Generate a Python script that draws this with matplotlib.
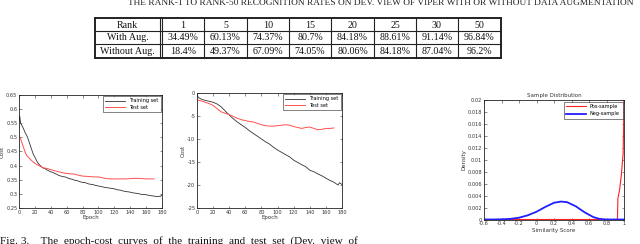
import matplotlib
matplotlib.use('Agg')
import matplotlib.pyplot as plt
from matplotlib.ticker import FuncFormatter

# ---------------- data ----------------
ranks = [1, 5, 10, 15, 20, 25, 30, 50]
with_aug = [34.49, 60.13, 74.37, 80.7, 84.18, 88.61, 91.14, 96.84]
without_aug = [18.4, 49.37, 67.09, 74.05, 80.06, 84.18, 87.04, 96.2]

ep_train1 = [0, 1, 2, 5, 8, 10, 12, 15, 18, 20, 23, 25, 28, 30, 33, 35, 38, 40, 43, 45, 48, 50, 53, 55,
             58, 60, 63, 65, 68, 70, 73, 75, 78, 80, 83, 85, 88, 90, 93, 95, 98, 100, 103, 105, 108,
             110, 113, 115, 118, 120, 123, 125, 128, 130, 133, 135, 138, 140, 143, 145, 148, 150, 153,
             155, 158, 160, 163, 165, 168, 170, 173, 175, 177, 178, 180]
cost_train1 = [0.555, 0.575, 0.55, 0.535, 0.515, 0.505, 0.49, 0.465, 0.44, 0.43, 0.413, 0.405, 0.397,
               0.392, 0.389, 0.385, 0.381, 0.378, 0.376, 0.372, 0.369, 0.365, 0.363, 0.361, 0.36, 0.358,
               0.354, 0.353, 0.351, 0.348, 0.347, 0.345, 0.342, 0.341, 0.340, 0.338, 0.335, 0.334, 0.333,
               0.331, 0.329, 0.328, 0.326, 0.325, 0.323, 0.322, 0.321, 0.320, 0.319, 0.318, 0.315, 0.314,
               0.313, 0.311, 0.309, 0.308, 0.307, 0.306, 0.304, 0.303, 0.302, 0.301, 0.299, 0.298, 0.298,
               0.297, 0.295, 0.294, 0.293, 0.292, 0.291, 0.290, 0.292, 0.291, 0.297]
ep_test1 = [0, 2, 5, 8, 10, 15, 20, 25, 30, 35, 40, 45, 50, 55, 60, 65, 70, 75, 80, 85, 90, 95, 100,
            105, 110, 115, 120, 125, 130, 135, 140, 145, 150, 155, 160, 165, 170]
cost_test1 = [0.505, 0.495, 0.47, 0.445, 0.435, 0.42, 0.408, 0.40, 0.393, 0.39, 0.386, 0.382, 0.378,
              0.375, 0.372, 0.371, 0.37, 0.366, 0.363, 0.362, 0.361, 0.36, 0.36, 0.357, 0.354, 0.353,
              0.353, 0.353, 0.353, 0.353, 0.354, 0.355, 0.355, 0.354, 0.353, 0.353, 0.353]

ep_train2 = [0, 2, 5, 10, 15, 20, 25, 30, 35, 40, 45, 50, 55, 60, 65, 70, 75, 80, 85, 90, 95, 100, 105,
             110, 115, 120, 125, 130, 135, 140, 145, 150, 155, 160, 165, 170, 175, 177, 180]
cost_train2 = [-0.5, -1.0, -1.3, -1.6, -1.8, -2.0, -2.4, -3.0, -3.9, -4.8, -5.6, -6.3, -6.9, -7.5,
               -8.2, -8.8, -9.4, -10.0, -10.6, -11.1, -11.8, -12.4, -12.9, -13.4, -13.9, -14.6, -15.1,
               -15.6, -16.0, -16.8, -17.1, -17.6, -18.0, -18.5, -19.0, -19.4, -20.0, -19.5, -19.9]
ep_test2 = [0, 5, 10, 15, 20, 25, 30, 35, 40, 45, 50, 55, 60, 65, 70, 75, 80, 85, 90, 95, 100, 105,
            110, 115, 120, 125, 130, 135, 140, 145, 150, 155, 160, 165, 170]
cost_test2 = [-1.5, -1.7, -2.0, -2.3, -2.7, -3.4, -4.1, -4.4, -4.7, -5.1, -5.5, -5.8, -6.0, -6.2, -6.3,
              -6.6, -6.9, -7.1, -7.2, -7.2, -7.1, -7.0, -6.9, -7.0, -7.3, -7.5, -7.7, -7.5, -7.4, -7.7,
              -8.0, -7.9, -7.7, -7.7, -7.6]

neg_x = [-0.6, -0.5, -0.4, -0.3, -0.2, -0.1, 0.0, 0.1, 0.2, 0.28, 0.35, 0.45, 0.55, 0.65, 0.72, 0.8, 0.9, 1.0]
neg_y = [0, 0, 0.00003, 0.0001, 0.0003, 0.0007, 0.0013, 0.0021, 0.0028, 0.0030, 0.0029, 0.0022,
         0.0012, 0.0004, 0.0001, 0, 0, 0]
pos_x = [-0.6, 0.925, 0.93, 0.95, 0.97, 0.99, 0.995, 1.0]
pos_y = [0, 0, 0.0035, 0.005, 0.0075, 0.011, 0.015, 0.021]

# ---------------- figure ----------------
W, H = 640, 244
fig = plt.figure(figsize=(W / 100, H / 100), dpi=100)
plt.rcParams['font.family'] = ['Liberation Serif', 'DejaVu Serif']

bg = fig.add_axes([0, 0, 1, 1])
bg.set_xlim(0, W)
bg.set_ylim(H, 0)
bg.axis('off')

# title (cut at top, as in the reference)
bg.text(128, 5.0, "THE RANK-1 TO RANK-50 RECOGNITION RATES ON DEV. VIEW OF VIPER WITH OR WITHOUT DATA AUGMENTATION",
        fontsize=6.75, ha='left', va='baseline', color='#222222')

# table
col_edges = [95, 160, 204, 247, 289, 331, 374, 416, 458, 501]
row_edges = [18, 31, 44, 58]
rows = [["Rank"] + [str(r) for r in ranks],
        ["With Aug."] + [f"{v}%" for v in with_aug],
        ["Without Aug."] + [f"{v}%" for v in without_aug]]
for ri, row in enumerate(rows):
    yc = (row_edges[ri] + row_edges[ri + 1]) / 2
    for ci, txt in enumerate(row):
        x0 = col_edges[ci] + (2 if ci == 1 else 0)
        xc = (x0 + col_edges[ci + 1]) / 2
        bg.text(xc, yc + 0.5, txt, fontsize=7.2, ha='center', va='center', color='#111111')
lw_in = 0.8
for y in row_edges:
    lw = 1.4 if y in (row_edges[0], row_edges[-1]) else lw_in
    bg.plot([col_edges[0], col_edges[-1]], [y, y], color='#222222', lw=lw)
for i, x in enumerate(col_edges):
    lw = 1.4 if i in (0, len(col_edges) - 1) else lw_in
    bg.plot([x, x], [row_edges[0], row_edges[-1]], color='#222222', lw=lw)
bg.plot([162.3, 162.3], [row_edges[0], row_edges[-1]], color='#222222', lw=lw_in)

# caption (cut at bottom, as in the reference)
bg.text(0, 236.5, "Fig. 3.    The  epoch-cost  curves  of  the  training  and  test  set  (Dev.  view  of",
        fontsize=8.1, ha='left', va='top', color='#111111')


def ax_px(l, t, r, b):
    return fig.add_axes([l / W, 1 - b / H, (r - l) / W, (b - t) / H])


fmt = FuncFormatter(lambda v, p: ('%g' % round(v, 6)))
tick_col = '#333333'


def style(ax):
    ax.tick_params(direction='in', top=True, right=True, length=1.8, width=0.4,
                   labelsize=3.6, pad=1.2, colors='#333333', labelcolor=tick_col)
    for s in ax.spines.values():
        s.set_linewidth(0.6)
        s.set_color('#222222')
    ax.xaxis.set_major_formatter(fmt)
    ax.yaxis.set_major_formatter(fmt)
    for t in ax.get_xticklabels() + ax.get_yticklabels():
        t.set_family('DejaVu Sans')


lab_font = dict(fontsize=4, color='#333333', family='DejaVu Sans')
leg_kw = dict(loc='upper right', frameon=True, fancybox=False, handlelength=4,
              borderpad=0.4, labelspacing=0.3, borderaxespad=0.3,
              prop={'family': 'DejaVu Sans', 'size': 3.6})


def frame_legend(lg):
    lg.get_frame().set_edgecolor('#222222')
    lg.get_frame().set_linewidth(0.5)


# plot 1
ax1 = ax_px(19, 95, 162, 208)
ax1.plot(ep_train1, cost_train1, color='#333333', lw=0.6, label='Training set')
ax1.plot(ep_test1, cost_test1, color='#ff5050', lw=0.7, label='Test set')
ax1.set_xlim(0, 180)
ax1.set_ylim(0.25, 0.65)
ax1.set_xticks(range(0, 181, 20))
ax1.set_yticks([0.25, 0.3, 0.35, 0.4, 0.45, 0.5, 0.55, 0.6, 0.65])
style(ax1)
ax1.set_xlabel('Epoch', labelpad=0.5, **lab_font)
ax1.set_ylabel('Cost', labelpad=1, **lab_font)
frame_legend(ax1.legend(**leg_kw))

# plot 2
ax2 = ax_px(197, 93, 342, 208)
ax2.plot(ep_train2, cost_train2, color='#333333', lw=0.6, label='Training set')
ax2.plot(ep_test2, cost_test2, color='#ff5050', lw=0.7, label='Test set')
ax2.set_xlim(0, 180)
ax2.set_ylim(-25, 0)
ax2.set_xticks(range(0, 181, 20))
ax2.set_yticks(range(-25, 1, 5))
style(ax2)
ax2.set_xlabel('Epoch', labelpad=0.5, **lab_font)
ax2.set_ylabel('Cost', labelpad=1, **lab_font)
frame_legend(ax2.legend(**leg_kw))

# plot 3
ax3 = ax_px(484, 100, 624, 219.5)
ax3.plot(pos_x, pos_y, color='#ff2020', lw=0.8, label='Pos-sample')
ax3.plot(neg_x, neg_y, color='#2020ff', lw=1.3, label='Neg-sample')
ax3.plot([-0.6, 0.925], [0, 0], color='#b03030', lw=0.6)
ax3.set_xlim(-0.6, 1.0)
ax3.set_ylim(0, 0.02)
ax3.set_xticks([-0.6, -0.4, -0.2, 0, 0.2, 0.4, 0.6, 0.8, 1.0])
ax3.set_yticks([i * 0.002 for i in range(11)])
style(ax3)
ax3.set_xlabel('Similarity Score', labelpad=1, **lab_font)
ax3.set_ylabel('Density', labelpad=1, **lab_font)
ax3.set_title('Sample Distribution', pad=2, **lab_font)
kw3 = dict(leg_kw)
kw3.update(borderpad=0.5, labelspacing=0.5)
frame_legend(ax3.legend(**kw3))

fig.savefig('out.png', dpi=100)
